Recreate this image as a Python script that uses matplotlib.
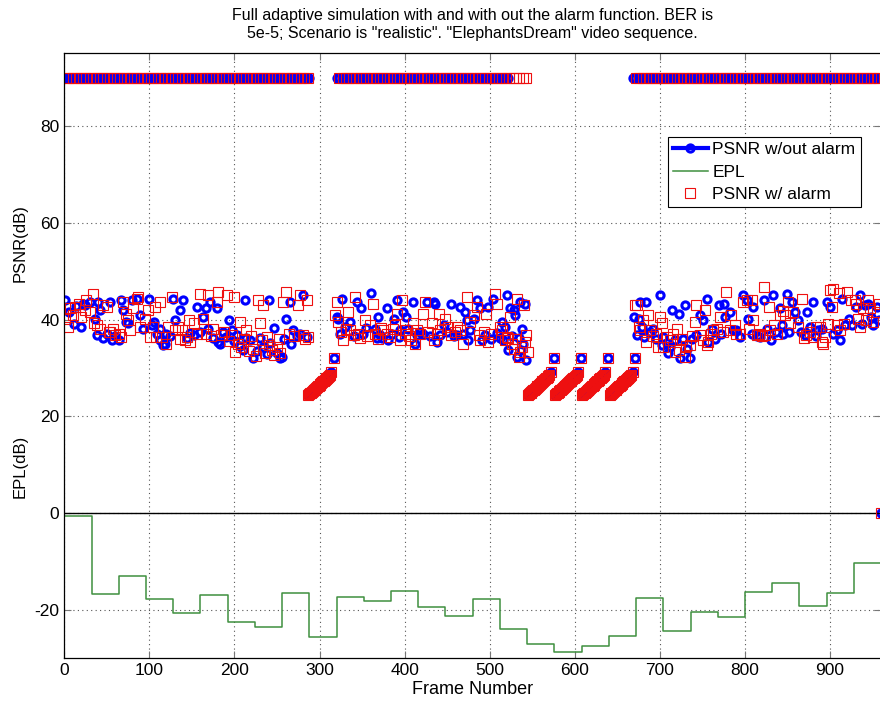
import numpy as np
import matplotlib
matplotlib.use("Agg")
import matplotlib.pyplot as plt
from matplotlib.lines import Line2D

plt.rcParams["font.family"] = ["Liberation Sans", "DejaVu Sans"]
plt.rcParams["axes.unicode_minus"] = False

# Error-free frames are reported at the capped PSNR value
PSNR_CAP = 90.0
BLUE_CAP_SEGMENTS = [(0, 290), (320, 522), (668, 960)]
RED_CAP_SEGMENTS = [(2, 290), (323, 547), (672, 960)]
BLUE_CAP_STEP = 3
RED_CAP_STEP = 4

# Concealment ramp during each outage (same shape for both runs)
RAMP_STARTS = [287, 545, 577, 609, 641]
RAMP_OFFSETS = [0, 1, 2, 3, 4, 5, 6, 7, 8, 9, 10, 11, 12, 13, 14, 15, 16, 17, 18, 19,
                20, 21, 22, 23, 24, 25, 27, 30]
RAMP_PSNR = [24.5, 24.6, 24.8, 24.9, 25.1, 25.2, 25.4, 25.5, 25.7, 25.8, 26.0, 26.2,
             26.3, 26.5, 26.7, 26.8, 27.0, 27.2, 27.3, 27.5, 27.7, 27.9, 28.0, 28.2,
             28.4, 28.6, 29.1, 32.1]

# PSNR without the alarm function
BLUE_FRAMES = [1, 5, 11, 14, 20, 22, 24, 30, 36, 38, 40, 42, 46, 50, 54, 56, 60, 64, 67, 69,
               73, 75, 79, 85, 89, 93, 99, 103, 105, 109, 112, 113, 116, 118, 120, 124, 128, 130,
               136, 140, 144, 148, 152, 156, 160, 163, 167, 169, 171, 175, 179, 181, 183, 187,
               190, 193, 197, 200, 203, 206, 210, 212, 214, 218, 222, 226, 230, 234, 238, 240,
               242, 246, 250, 254, 256, 258, 261, 265, 267, 269, 273, 277, 281, 285,
               320, 322, 324, 326, 330, 336, 340, 344, 349, 351, 355, 361, 365, 367, 369, 371,
               373, 379, 381, 385, 387, 391, 393, 395, 398, 402, 404, 410, 412, 415, 418, 422,
               426, 430, 434, 436, 438, 442, 446, 450, 455, 458, 461, 465, 469, 471, 473, 475,
               477, 481, 485, 489, 491, 494, 498, 502, 504, 508, 512, 514, 516, 518, 520, 522,
               524, 526, 528, 530, 532, 534, 536, 537, 538, 539, 541, 543,
               670, 673, 675, 677, 679, 681, 684, 688, 692, 696, 700, 702, 704, 708, 710, 712,
               714, 718, 722, 724, 727, 730, 732, 735, 738, 743, 747, 751, 755, 757, 761, 765,
               769, 772, 775, 777, 782, 786, 790, 794, 798, 802, 804, 808, 810, 814, 818, 822,
               826, 831, 833, 837, 841, 843, 845, 849, 852, 855, 859, 862, 866, 871, 873, 877,
               880, 883, 886, 890, 896, 900, 904, 908, 912, 914, 918, 922, 926, 930, 935, 938,
               941, 945, 948, 951, 955, 958, 960]
BLUE_PSNR = [44.0, 41.5, 39.0, 42.8, 38.5, 43.3, 43.0, 43.6, 40.2, 36.8, 43.6, 41.9, 36.1, 37.0,
             43.6, 35.7, 36.5, 35.7, 44.0, 41.9, 39.5, 39.2, 44.0, 44.3, 40.9, 38.0, 44.3, 38.8,
             39.5, 37.1, 35.7, 38.1, 34.7, 35.0, 37.1, 36.5, 44.3, 39.9, 41.9, 44.0, 36.1, 37.2,
             36.8, 42.6, 37.4, 40.5, 42.3, 38.1, 43.6, 36.1, 42.3, 35.4, 35.0, 37.5, 36.4, 39.9,
             37.8, 35.5, 36.8, 34.5, 33.7, 44.0, 36.2, 35.7, 32.0, 33.5, 36.1, 34.4, 32.8, 44.0,
             35.2, 38.2, 33.0, 32.0, 32.3, 36.0, 40.2, 43.6, 35.0, 37.8, 36.5, 37.0, 45.0, 36.4,
             40.5, 40.2, 37.1, 44.3, 38.5, 39.5, 36.6, 43.6, 42.3, 37.1, 38.2, 45.4, 38.0, 36.1,
             40.5, 36.8, 36.1, 42.3, 35.7, 37.0, 40.2, 44.0, 36.4, 37.8, 41.6, 40.5, 38.1, 43.6,
             35.0, 36.8, 37.5, 37.1, 43.6, 36.5, 43.6, 43.3, 35.4, 36.8, 38.8, 37.5, 43.3, 36.6,
             36.8, 42.6, 37.1, 41.6, 39.9, 35.7, 37.8, 40.2, 44.0, 42.3, 35.7, 36.9, 42.6, 36.0,
             44.3, 37.2, 36.1, 39.5, 35.7, 38.5, 45.0, 33.7, 42.3, 36.5, 41.9, 40.9, 32.3, 36.1,
             43.6, 33.7, 38.1, 35.0, 43.3, 31.6,
             40.5, 36.8, 40.2, 43.6, 38.5, 36.4, 43.6, 37.5, 38.1, 36.0, 45.0, 34.8, 36.4, 35.2,
             33.0, 34.3, 41.9, 35.8, 41.2, 32.0, 36.0, 43.0, 34.0, 32.0, 36.0, 36.8, 40.9, 39.9,
             44.3, 35.4, 38.1, 36.0, 43.0, 37.0, 43.3, 40.5, 41.6, 37.8, 37.8, 36.4, 45.0, 44.0,
             40.2, 37.0, 42.6, 36.6, 36.4, 44.0, 38.0, 35.7, 45.0, 37.5, 42.3, 38.8, 37.1, 45.3,
             37.5, 43.6, 41.6, 39.9, 37.5, 36.8, 41.6, 38.5, 43.6, 36.5, 37.8, 38.0, 43.6, 42.6,
             37.1, 37.8, 35.7, 44.3, 38.8, 40.2, 38.8, 42.6, 45.0, 39.0, 42.9, 43.3, 40.5, 38.8,
             42.6, 40.0, 0.0]

# PSNR with the alarm function
RED_FRAMES = [1, 4, 7, 10, 13, 17, 20, 24, 26, 30, 34, 35, 38, 42, 46, 50, 52, 54, 57, 60,
              64, 67, 69, 73, 75, 77, 81, 85, 87, 89, 95, 98, 101, 104, 107, 108, 113, 115,
              120, 122, 126, 130, 134, 136, 138, 142, 144, 146, 148, 152, 156, 160, 163, 166,
              169, 172, 175, 179, 181, 184, 188, 191, 194, 197, 199, 201, 204, 206, 208, 211,
              214, 217, 220, 222, 225, 228, 230, 232, 234, 236, 238, 241, 244, 247, 250, 252,
              254, 257, 261, 264, 270, 275, 277, 280, 283, 285, 287,
              318, 320, 322, 325, 328, 331, 334, 336, 340, 342, 345, 348, 353, 356, 359, 363,
              365, 369, 372, 375, 379, 383, 386, 389, 391, 395, 397, 400, 402, 405, 408, 410,
              412, 414, 418, 422, 424, 428, 432, 434, 438, 440, 442, 447, 451, 455, 459, 462,
              465, 469, 473, 477, 481, 485, 487, 489, 493, 496, 498, 502, 506, 508, 512, 514,
              518, 520, 522, 524, 526, 528, 530, 532, 534, 536, 538, 540, 541, 543, 545,
              671, 673, 675, 677, 680, 684, 686, 688, 692, 696, 698, 700, 702, 704, 708, 712,
              715, 718, 720, 722, 726, 729, 731, 735, 738, 741, 743, 747, 751, 753, 755, 757,
              760, 763, 767, 771, 774, 778, 782, 784, 788, 790, 794, 798, 802, 805, 808, 810,
              814, 816, 820, 822, 824, 828, 830, 834, 838, 841, 845, 847, 851, 853, 857, 862,
              867, 869, 872, 876, 880, 884, 888, 890, 892, 894, 898, 900, 902, 904, 908, 910,
              912, 916, 920, 925, 929, 931, 933, 935, 939, 942, 945, 947, 951, 955, 957, 960]
RED_PSNR = [40.2, 38.5, 42.3, 41.0, 42.6, 43.3, 40.5, 42.0, 44.0, 41.5, 45.3, 39.2, 38.8, 38.1,
            42.9, 42.6, 37.4, 37.5, 38.0, 36.8, 37.0, 36.4, 43.6, 41.2, 39.9, 37.8, 42.3, 44.3,
            44.7, 38.5, 40.2, 42.0, 36.4, 38.5, 42.6, 36.4, 43.6, 36.4, 35.0, 38.5, 44.7, 37.8,
            38.5, 36.0, 37.8, 35.7, 36.4, 39.9, 35.4, 39.2, 37.1, 45.3, 40.2, 37.0, 45.0, 36.5,
            38.1, 43.6, 45.7, 36.8, 37.5, 45.0, 35.5, 36.8, 44.7, 33.3, 35.0, 39.5, 34.4, 36.0,
            37.8, 33.5, 36.5, 34.0, 32.5, 44.0, 39.2, 35.8, 43.0, 33.0, 36.4, 34.8, 33.7, 32.6,
            34.4, 36.0, 33.0, 43.6, 45.7, 37.0, 36.5, 43.0, 45.0, 36.8, 36.0, 44.0, 36.4,
            41.0, 43.6, 39.5, 37.5, 35.7, 38.0, 41.6, 37.8, 36.8, 44.7, 37.0, 36.1, 39.9, 36.5,
            38.8, 43.3, 37.1, 36.0, 38.2, 37.8, 37.1, 36.4, 38.0, 38.8, 41.2, 35.7, 44.0, 37.0,
            37.8, 36.6, 35.7, 39.2, 35.0, 37.8, 37.1, 41.2, 43.6, 37.5, 39.2, 35.7, 37.0, 41.2,
            37.8, 40.2, 38.5, 36.9, 37.4, 38.5, 37.8, 35.0, 44.7, 39.5, 40.9, 42.6, 36.8, 35.7,
            37.5, 41.2, 35.4, 37.0, 45.3, 43.3, 38.5, 37.8, 35.8, 36.4, 36.1, 40.5, 35.0, 34.0,
            36.0, 44.3, 32.3, 33.3, 34.4, 42.9, 35.4, 36.8, 33.3,
            43.0, 42.9, 38.5, 37.8, 40.0, 35.4, 40.9, 37.8, 36.5, 37.1, 34.4, 40.5, 39.2, 34.3,
            36.4, 35.7, 37.0, 33.3, 38.1, 33.7, 36.0, 32.3, 34.5, 34.7, 36.5, 39.5, 42.9, 36.8,
            35.7, 41.9, 34.7, 35.4, 37.0, 37.8, 38.1, 40.5, 37.5, 45.7, 37.8, 40.9, 38.8, 37.1,
            37.0, 43.6, 44.0, 38.0, 44.0, 39.9, 36.8, 37.1, 36.5, 46.7, 36.8, 42.6, 37.8, 38.8,
            37.0, 40.9, 41.8, 40.9, 43.6, 39.2, 41.6, 38.5, 44.3, 36.1, 36.8, 37.5, 36.4, 38.5,
            38.5, 35.4, 35.0, 36.4, 39.0, 46.0, 42.6, 46.4, 38.8, 45.4, 37.8, 39.0, 45.7, 44.0,
            44.0, 43.3, 40.2, 38.5, 42.3, 40.0, 44.0, 42.3, 39.5, 41.6, 43.3, 0.0]

# Expected packet loss, one value per 32-frame window
EPL_EDGES = [0, 32, 64, 96, 128, 160, 192, 224, 256, 288, 320, 352, 384, 416, 448, 480,
             512, 544, 576, 608, 640, 672, 704, 736, 768, 800, 832, 864, 896, 928, 960]
EPL_DB = [-0.5, -16.7, -12.9, -17.7, -20.6, -17.0, -22.5, -23.5, -16.5, -25.6, -17.4, -18.2,
          -16.0, -19.5, -21.2, -17.7, -24.0, -27.1, -28.7, -27.4, -25.3, -17.5, -24.3, -20.5,
          -21.4, -16.3, -14.4, -19.1, -16.5, -10.3]

BLUE = "blue"
RED = "#ee1010"
GREEN = "#3f8f3f"


def cap_frames(segments, step):
    return np.concatenate([np.arange(a, b, step) for a, b in segments])


ramp_x = np.concatenate([np.add(s, RAMP_OFFSETS) for s in RAMP_STARTS])
ramp_y = np.tile(RAMP_PSNR, len(RAMP_STARTS))

blue_cap = cap_frames(BLUE_CAP_SEGMENTS, BLUE_CAP_STEP)
red_cap = cap_frames(RED_CAP_SEGMENTS, RED_CAP_STEP)

blue_x = np.concatenate([BLUE_FRAMES, ramp_x, blue_cap])
blue_y = np.concatenate([BLUE_PSNR, ramp_y, np.full(len(blue_cap), PSNR_CAP)])
red_x = np.concatenate([RED_FRAMES, ramp_x, red_cap])
red_y = np.concatenate([RED_PSNR, ramp_y, np.full(len(red_cap), PSNR_CAP)])

fig = plt.figure(figsize=(8.8, 7.02), dpi=100)
ax = fig.add_axes([64.3 / 880, 43.7 / 702, 816.8 / 880, 605 / 702])

ax.plot(blue_x, blue_y, linestyle="none", marker="o", markersize=5.2,
        markerfacecolor="none", markeredgecolor=BLUE, markeredgewidth=2.2)
ax.axhline(0, color="black", linewidth=1.0)
ax.step(EPL_EDGES, EPL_DB + [EPL_DB[-1]], where="post", color=GREEN, linewidth=1.1)
ax.plot(red_x, red_y, linestyle="none", marker="s", markersize=7.3,
        markerfacecolor="none", markeredgecolor=RED, markeredgewidth=0.8)

ax.set_xlim(0, 960)
ax.set_ylim(-30, 95)
ax.set_xticks(range(0, 901, 100))
ax.set_yticks(range(-20, 81, 20))
ax.grid(True, linestyle=(0, (1, 3)), color="#555555", linewidth=0.8)
ax.tick_params(direction="in", length=5, top=True, right=True, labelsize=12.5,
               color="#777777", labelcolor="black")
for side in ax.spines.values():
    side.set_linewidth(0.9)

ax.set_xlabel("Frame Number", fontsize=13, labelpad=2)
fig.text(20 / 880, 1 - 243 / 702, "PSNR(dB)", rotation=90, ha="center", va="center",
         fontsize=12)
fig.text(20 / 880, 1 - 466 / 702, "EPL(dB)", rotation=90, ha="center", va="center",
         fontsize=12)
ax.set_title("Full adaptive simulation with and with out the alarm function. BER is\n"
             "5e-5; Scenario is \"realistic\". \"ElephantsDream\" video sequence.",
             fontsize=11.5, linespacing=1.25, pad=11)

handles = [
    Line2D([], [], color=BLUE, linewidth=3, marker="o", markersize=5.2,
           markerfacecolor="none", markeredgewidth=2.2),
    Line2D([], [], color=GREEN, linewidth=1.1),
    Line2D([], [], linestyle="none", marker="s", markersize=7.3, markerfacecolor="none",
           markeredgecolor=RED, markeredgewidth=0.8),
]
leg = ax.legend(handles, ["PSNR w/out alarm", "EPL", "PSNR w/ alarm"],
                loc="upper left", bbox_to_anchor=(0.739, 0.862), fontsize=12.5,
                frameon=True, fancybox=False, edgecolor="black", framealpha=1,
                handlelength=2.0, borderpad=0.3, borderaxespad=0, labelspacing=0.42,
                handletextpad=0.25)
leg.get_frame().set_linewidth(0.8)

fig.savefig("out.png", dpi=100, facecolor="white")
